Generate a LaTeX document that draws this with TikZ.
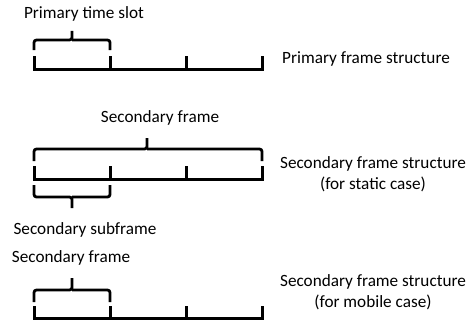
\documentclass[tikz,border=0pt]{standalone}
\usepackage{fontspec}
\setmainfont{Carlito}
\begin{document}
\begin{tikzpicture}[x=1pt,y=-1pt,
  frame/.style={line width=3pt,line cap=rect},
  bracel/.style={line width=2.8pt,rounded corners=2.5pt},
  lbl/.style={inner sep=0pt,font=\fontsize{17.2}{21.5}\selectfont,align=center}]
\useasboundingbox (0,0) rectangle (470,321);
% labels
\node[lbl] (pts) at (84,14) {Primary time slot};
\node[lbl] (pfs) at (366,59) {Primary frame structure};
\node[lbl] (sf1) at (160,118) {Secondary frame};
\node[lbl] (sfs) at (373,174) {Secondary frame structure\\(for static case)};
\node[lbl] (ssf) at (85,230) {Secondary subframe};
\node[lbl] (sf2) at (71,258) {Secondary frame};
\node[lbl] (sfm) at (373,292) {Secondary frame structure\\(for mobile case)};
% primary frame
\draw[frame] (34,57) -- (34,69) -- (262,69) -- (262,57);
\draw[frame] (110,69) -- (110,57) (186,69) -- (186,57);
\draw[bracel] (34,50) -- (34,40) -- (72,40) -- (72,31) (72,40) -- (110,40) -- (110,50);
% secondary static
\draw[frame] (34,167) -- (34,179) -- (262,179) -- (262,167);
\draw[frame] (110,179) -- (110,167) (186,179) -- (186,167);
\draw[bracel] (34,161) -- (34,149) -- (147,149) -- (147,138) (147,149) -- (262,149) -- (262,161);
\draw[bracel] (34,185) -- (34,197) -- (72,197) -- (72,208) (72,197) -- (110,197) -- (110,185);
% secondary mobile
\draw[frame] (34,307) -- (34,318) -- (262,318) -- (262,307);
\draw[frame] (110,318) -- (110,307) (186,318) -- (186,307);
\draw[bracel] (34,302) -- (34,290) -- (72,290) -- (72,278) (72,290) -- (110,290) -- (110,302);
\end{tikzpicture}
\end{document}
